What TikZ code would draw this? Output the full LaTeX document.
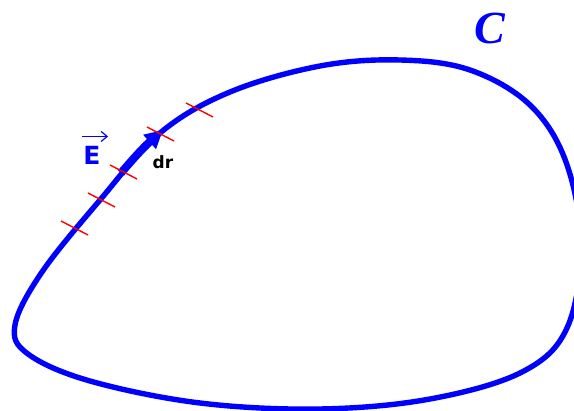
\documentclass[tikz,border=0pt]{standalone}
\usepackage{fontspec}
\setsansfont{DejaVu Sans}
\newfontfamily\curvefont{Liberation Serif}
\usepackage{tikz}
\usetikzlibrary{arrows.meta,calc}
\definecolor{loopblue}{rgb}{0,0,1}

\begin{document}
\begin{tikzpicture}[x=0.5pt,y=-0.5pt,
   loop/.style={draw=loopblue,line width=2.7pt},
   tick/.style={draw=red,line width=0.7pt},
   lbl/.style={inner sep=0pt,font=\sffamily\bfseries}]
  \useasboundingbox (0,0) rectangle (574,411);
  \clip (0,0) rectangle (574,411);
  % the closed curve
  \draw[loop] plot[smooth cycle,tension=0.6] coordinates {
     (15,325) (42,272) (100,200) (160,133) (230,92) (320,66) (400,60)
     (470,70) (530,105) (566,162) (581,245) (567,328) (522,372)
     (430,399) (320,409) (200,403) (90,381) (28,354)};
  % line element
  \coordinate (dr0) at (121,173);
  \coordinate (dr1) at (163,130);
  \draw[loopblue,line width=4pt,-{Triangle[length=9pt,width=9pt]}]
     (dr0) to[bend left=4] (dr1);
  % tick marks
  \foreach \a/\b in {61/221,88/193,110/165,147/127,186/103}
     \draw[tick] (\a,\b) -- ++(27,14);
  \node[lbl,text=loopblue,font=\sffamily\bfseries\fontsize{12.5}{14}\selectfont]
     (vE) at (92,155) {E};
  \draw[loopblue,line width=0.6pt,-{Straight Barb[length=3pt,width=5pt]}]
     ($(vE.north west)+(-1,-9)$) -- ++(26,0);
  \node[lbl,font=\sffamily\bfseries\fontsize{8.5}{10}\selectfont]
     (dr) at (163,162) {dr};
  \node[text=loopblue,inner sep=0pt,font=\curvefont\bfseries\itshape\fontsize{23}{25}\selectfont]
     (cC) at (490,28) {C};
\end{tikzpicture}
\end{document}
